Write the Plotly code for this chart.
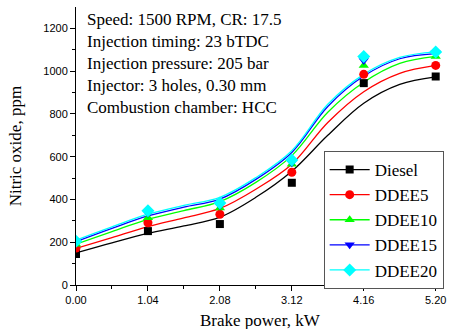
import plotly.graph_objects as go

# Measured data points
power = [0.00, 1.04, 2.08, 3.12, 4.16, 5.20]
series_names = ["Diesel", "DDEE5", "DDEE10", "DDEE15", "DDEE20"]
diesel = [145, 252, 285, 478, 944, 975]
ddee5 = [173, 291, 331, 527, 985, 1027]
ddee10 = [190, 315, 360, 565, 1027, 1069]
ddee15 = [200, 335, 372, 572, 1050, 1085]
ddee20 = [205, 347, 383, 584, 1068, 1089]

# Fitted curves
power_fit = [0.00, 0.52, 1.04, 1.56, 2.08, 2.60, 3.12, 3.64, 4.16, 4.68, 5.20]
diesel_fit = [150, 197, 241, 276, 317, 410, 532, 700, 850, 938, 973]
ddee5_fit = [171, 222, 273, 314, 358, 448, 565, 760, 904, 990, 1027]
ddee10_fit = [191, 250, 307, 348, 390, 480, 605, 808, 948, 1036, 1069]
ddee15_fit = [203, 265, 323, 364, 402, 494, 620, 835, 977, 1058, 1082]
ddee20_fit = [210, 272, 331, 372, 410, 502, 628, 845, 985, 1064, 1090]

x_ticks = [0.00, 1.04, 2.08, 3.12, 4.16, 5.20]
x_ticktext = ["0.00", "1.04", "2.08", "3.12", "4.16", "5.20"]
y_ticks = [0, 200, 400, 600, 800, 1000, 1200]

points = [diesel, ddee5, ddee10, ddee15, ddee20]
fits = [diesel_fit, ddee5_fit, ddee10_fit, ddee15_fit, ddee20_fit]
colors = ["#000000", "#ff0000", "#00ff00", "#0000ff", "#00ffff"]
symbols = ["square", "circle", "triangle-up", "triangle-down", "diamond"]
sizes = [8, 9, 9, 9, 10]

fig = go.Figure()
for name, pts, fit, c, s, sz in zip(series_names, points, fits, colors, symbols, sizes):
    fig.add_trace(go.Scatter(x=power_fit, y=fit, mode="lines", line=dict(color=c, width=1.3, shape="spline", smoothing=1.0),
                             showlegend=False, legendgroup=name, hoverinfo="skip"))
for name, pts, fit, c, s, sz in zip(series_names, points, fits, colors, symbols, sizes):
    fig.add_trace(go.Scatter(x=power, y=pts, mode="markers", marker=dict(color=c, symbol=s, size=sz, line=dict(width=0)),
                             showlegend=False, legendgroup=name))
    fig.add_trace(go.Scatter(x=[None], y=[None], mode="lines+markers", name=name, legendgroup=name,
                             line=dict(color=c, width=1.3), marker=dict(color=c, symbol=s, size=sz, line=dict(width=0))))

serif = "Liberation Serif"
sans = "Liberation Sans"

fig.update_layout(
    width=452, height=329,
    margin=dict(l=76, r=6, t=7, b=44),
    plot_bgcolor="white", paper_bgcolor="white",
    showlegend=True,
    legend=dict(x=0.673, y=0.482, xanchor="left", yanchor="top",
                bordercolor="#555555", borderwidth=1, bgcolor="white",
                font=dict(family=serif, size=17, color="black"),
                tracegroupgap=0, itemwidth=40),
    xaxis=dict(range=[0, 5.32], tickvals=x_ticks, ticktext=x_ticktext, showgrid=False, zeroline=False,
               showline=True, linecolor="black", linewidth=1, ticks="outside", ticklen=5, tickcolor="black",
               tickfont=dict(family=sans, size=11, color="black"),
               minor=dict(tickvals=[0.52, 1.56, 2.60, 3.64, 4.68], ticks="outside", ticklen=3, tickcolor="black")),
    yaxis=dict(range=[0, 1300], tickvals=y_ticks, showgrid=False, zeroline=False,
               showline=True, linecolor="black", linewidth=1, ticks="outside", ticklen=5, tickcolor="black",
               tickfont=dict(family=sans, size=11, color="black"),
               minor=dict(tickvals=[100, 300, 500, 700, 900, 1100], ticks="outside", ticklen=3, tickcolor="black")),
    annotations=[
        dict(text="Speed: 1500 RPM, CR: 17.5<br>Injection timing: 23 bTDC<br>Injection pressure: 205 bar<br>Injector: 3 holes, 0.30 mm<br>Combustion chamber: HCC",
             xref="paper", yref="paper", x=0.024, y=0.995, xanchor="left", yanchor="top", align="left", showarrow=False,
             font=dict(family=serif, size=17, color="black")),
        dict(text="Brake power, kW", xref="paper", yref="paper", x=0.5, y=-0.088, xanchor="center", yanchor="top",
             showarrow=False, font=dict(family=serif, size=17, color="black")),
        dict(text="Nitric oxide, ppm", xref="paper", yref="paper", x=-0.165, y=0.5, xanchor="center", yanchor="middle",
             textangle=-90, showarrow=False, font=dict(family=serif, size=17, color="black")),
    ],
)

fig.write_html("out.html")
